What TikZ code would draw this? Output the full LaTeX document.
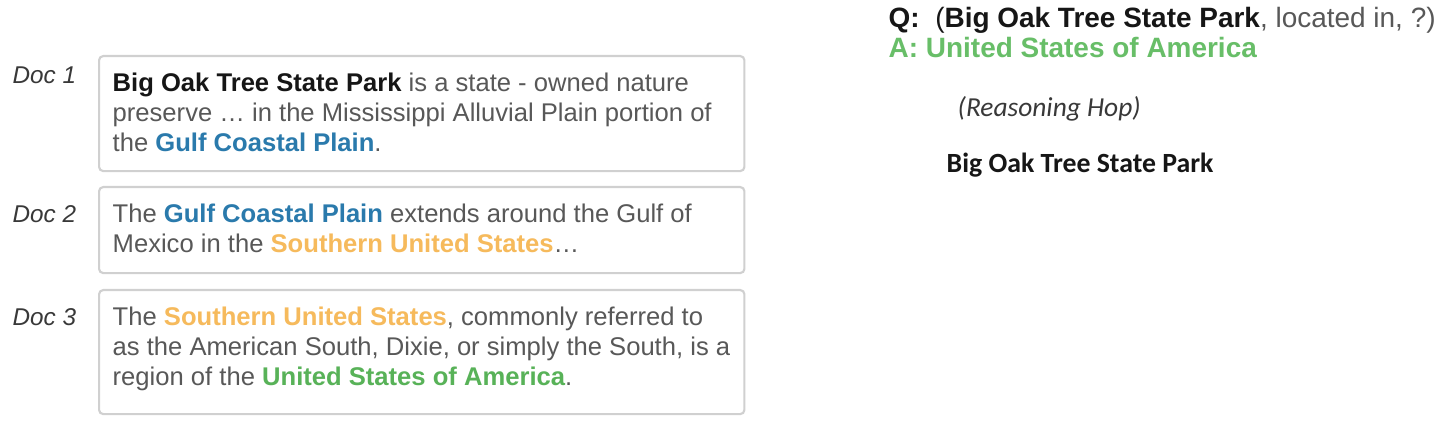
\documentclass[tikz,border=0pt]{standalone}
\usepackage{fontspec}
\setmainfont{Liberation Sans}
\newfontfamily\calfont{Carlito}
\definecolor{txtgray}{RGB}{88,88,88}
\definecolor{darktxt}{RGB}{22,22,22}
\definecolor{boxgray}{RGB}{208,208,208}
\definecolor{hopblue}{RGB}{42,122,172}
\definecolor{hoporange}{RGB}{246,186,92}
\definecolor{hopgreen}{RGB}{88,178,88}
\definecolor{ansgreen}{RGB}{104,190,104}
\begin{document}
\begin{tikzpicture}[x=0.01cm,y=-0.01cm,
  docbox/.style={draw=boxgray,line width=0.6pt,rounded corners=1.2pt,anchor=north west,inner sep=0pt,minimum width=6.45cm},
  ln/.style={anchor=base west,inner sep=0pt,text=txtgray,font=\fontsize{7.28pt}{8.5pt}\selectfont},
  doclab/.style={anchor=base west,inner sep=0pt,text=darktxt!85,font=\fontsize{6.9pt}{8pt}\selectfont\itshape},
  qa/.style={anchor=base west,inner sep=0pt,font=\fontsize{7.95pt}{9pt}\selectfont},
  ]
\useasboundingbox[fill=white] (0,0) rectangle (1450,425);
% boxes
\node[docbox,minimum height=1.15cm] (box1) at (98,55) {};
\node[docbox,minimum height=0.86cm] (box2) at (98,186) {};
\node[docbox,minimum height=1.24cm] (box3) at (98,289) {};
% doc labels
\node[doclab] (doc1) at (12,84) {Doc 1};
\node[doclab] (doc2) at (12,223) {Doc 2};
\node[doclab] (doc3) at (12,326) {Doc 3};
% doc 1
\node[ln] (d1a) at (112,92) {\textbf{\color{darktxt}Big Oak Tree State Park} is a state - owned nature};
\node[ln] (d1b) at (112,122) {preserve \dots\ in the Mississippi Alluvial Plain portion of};
\node[ln] (d1c) at (112,152) {the \textbf{\color{hopblue}Gulf Coastal Plain}.};
% doc 2
\node[ln] (d2a) at (112,223) {The \textbf{\color{hopblue}Gulf Coastal Plain} extends around the Gulf of};
\node[ln] (d2b) at (112,253) {Mexico in the \textbf{\color{hoporange}Southern United States}\dots};
% doc 3
\node[ln] (d3a) at (112,326) {The \textbf{\color{hoporange}Southern United States}, commonly referred to};
\node[ln] (d3b) at (112,356) {as the American South, Dixie, or simply the South, is a};
\node[ln] (d3c) at (112,386) {region of the \textbf{\color{hopgreen}United States of America}.};
% question / answer
\node[qa,text=txtgray] (q) at (888,28) {\textbf{\color{darktxt}Q:}\ \ {\color{darktxt}(}\textbf{\color{darktxt}Big Oak Tree State Park}, located in, ?)};
\node[qa,text=ansgreen] (a) at (888,58) {\textbf{A: United States of America}};
\node[anchor=base west,inner sep=0pt,text=darktxt!85,font=\fontsize{7.8pt}{9pt}\calfont\itshape] (hop) at (957,117) {(Reasoning Hop)};
\node[anchor=base west,inner sep=0pt,text=darktxt,font=\fontsize{7.9pt}{9pt}\calfont\bfseries] (ent) at (946,173) {Big Oak Tree State Park};
\end{tikzpicture}
\end{document}
